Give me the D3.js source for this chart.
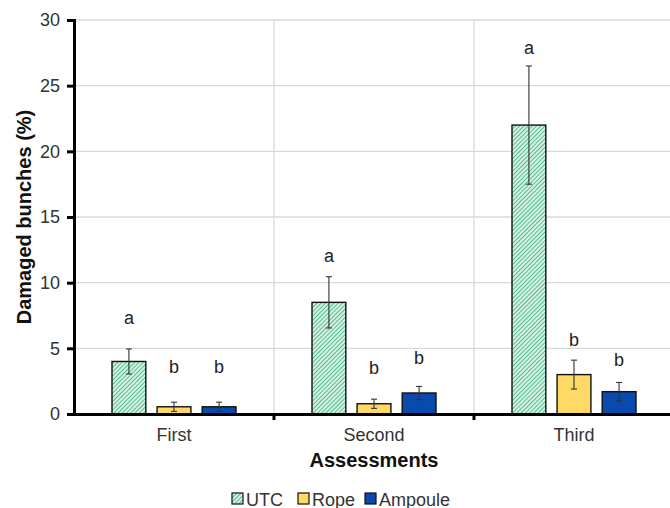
<!DOCTYPE html>
<html>
<head>
<meta charset="utf-8">
<script src="https://cdn.jsdelivr.net/npm/d3@7/dist/d3.min.js"></script>
<style>
  html, body { margin: 0; padding: 0; background: #fff; }
  svg { display: block; font-family: "Liberation Sans", Arial, sans-serif; }
</style>
</head>
<body>
<svg id="chart" width="670" height="508"></svg>
<script>
// Assessment rounds and treatments
const assessments = ["First", "Second", "Third"];
const treatments = ["UTC", "Rope", "Ampoule"];

// Mean damaged bunches (%) per treatment, in assessment order
const utcValues = [4.0, 8.5, 22.0];
const ropeValues = [0.55, 0.78, 3.0];
const ampouleValues = [0.55, 1.6, 1.7];

// Error (± half-width) per treatment
const utcErrors = [0.95, 1.95, 4.5];
const ropeErrors = [0.35, 0.35, 1.1];
const ampouleErrors = [0.35, 0.5, 0.7];

// Significance letters and the value level where each letter sits
const utcLetters = ["a", "a", "a"];
const ropeLetters = ["b", "b", "b"];
const ampouleLetters = ["b", "b", "b"];
const utcLetterLevel = [7.3, 12.0, 27.9];
const ropeLetterLevel = [3.6, 3.5, 5.6];
const ampouleLetterLevel = [3.6, 4.3, 4.1];

const yTicks = [0, 5, 10, 15, 20, 25, 30];

const seriesValues = [utcValues, ropeValues, ampouleValues];
const seriesErrors = [utcErrors, ropeErrors, ampouleErrors];
const seriesLetters = [utcLetters, ropeLetters, ampouleLetters];
const seriesLetterLevel = [utcLetterLevel, ropeLetterLevel, ampouleLetterLevel];

const svg = d3.select("#chart");
const margin = { left: 74, right: -4, top: 20, bottom: 94 };
const width = 670, height = 508;
const x0 = margin.left, x1 = width - margin.right;
const yTop = margin.top, yBot = height - margin.bottom;

const x = d3.scaleBand().domain(assessments).range([x0, x1]).paddingInner(0).paddingOuter(0);
const xs = d3.scaleBand().domain(treatments).range([38, 162]).paddingInner(0.25);
const y = d3.scaleLinear().domain([0, 30]).range([yBot, yTop]);

// hatch for the untreated control
const defs = svg.append("defs");
const pat = defs.append("pattern")
  .attr("id", "hatch").attr("patternUnits", "userSpaceOnUse")
  .attr("width", 3).attr("height", 3)
  .attr("patternTransform", "rotate(45)");
pat.append("rect").attr("width", 3).attr("height", 3).attr("fill", "#d6f2e3");
pat.append("line").attr("x1", 0).attr("y1", 0).attr("x2", 0).attr("y2", 3)
  .attr("stroke", "#34b07a").attr("stroke-width", 1.6);

const fills = ["url(#hatch)", "#ffd966", "#0a4aad"];

// horizontal gridlines
svg.append("g").selectAll("line").data(yTicks.filter(d => d > 0)).join("line")
  .attr("x1", x0).attr("x2", x1)
  .attr("y1", d => y(d)).attr("y2", d => y(d))
  .attr("stroke", "#d9d9d9").attr("stroke-width", 1.3);

// vertical separators between assessments
svg.append("g").selectAll("line").data(assessments.slice(1)).join("line")
  .attr("x1", d => x(d)).attr("x2", d => x(d))
  .attr("y1", yTop).attr("y2", yBot)
  .attr("stroke", "#d9d9d9").attr("stroke-width", 1.3);

// bars
const rows = [];
assessments.forEach((a, i) => {
  treatments.forEach((t, j) => {
    rows.push({
      a, t, j,
      v: seriesValues[j][i],
      e: seriesErrors[j][i],
      letter: seriesLetters[j][i],
      lv: seriesLetterLevel[j][i]
    });
  });
});

const bx = d => x(d.a) + xs(d.t);
const bw = xs.bandwidth();

svg.append("g").selectAll("rect").data(rows).join("rect")
  .attr("x", bx).attr("width", bw)
  .attr("y", d => y(d.v)).attr("height", d => y(0) - y(d.v))
  .attr("fill", d => fills[d.j])
  .attr("stroke", "#111").attr("stroke-width", 1.4);

// error bars
const eb = svg.append("g").attr("stroke", "#333").attr("stroke-width", 1.1);
rows.forEach(d => {
  const cx = bx(d) + bw / 2;
  eb.append("line").attr("x1", cx).attr("x2", cx).attr("y1", y(d.v + d.e)).attr("y2", y(d.v - d.e));
  eb.append("line").attr("x1", cx - 3).attr("x2", cx + 3).attr("y1", y(d.v + d.e)).attr("y2", y(d.v + d.e));
  eb.append("line").attr("x1", cx - 3).attr("x2", cx + 3).attr("y1", y(d.v - d.e)).attr("y2", y(d.v - d.e));
});

// significance letters
svg.append("g").selectAll("text").data(rows).join("text")
  .attr("x", d => bx(d) + bw / 2).attr("y", d => y(d.lv))
  .attr("text-anchor", "middle").attr("dominant-baseline", "central")
  .attr("font-size", 18).attr("fill", "#222")
  .text(d => d.letter);

// y axis
const yAxis = svg.append("g").attr("transform", `translate(${x0},0)`)
  .call(d3.axisLeft(y).tickValues(yTicks).tickSize(7).tickPadding(7));
yAxis.select(".domain").attr("stroke", "#000").attr("stroke-width", 3);
yAxis.selectAll(".tick line").attr("stroke", "#000").attr("stroke-width", 3);
yAxis.selectAll("text").attr("font-size", 18).attr("fill", "#333")
  .attr("font-family", "Liberation Sans, Arial, sans-serif");

// x axis
const xAxis = svg.append("g").attr("transform", `translate(0,${yBot})`)
  .call(d3.axisBottom(x).tickSize(0).tickPadding(14));
xAxis.select(".domain").attr("stroke", "#000").attr("stroke-width", 3);
xAxis.selectAll("text").attr("font-size", 18).attr("fill", "#333")
  .attr("font-family", "Liberation Sans, Arial, sans-serif");

// category boundary ticks
svg.append("g").selectAll("line").data(assessments.slice(1)).join("line")
  .attr("x1", d => x(d)).attr("x2", d => x(d))
  .attr("y1", yBot).attr("y2", yBot + 6)
  .attr("stroke", "#000").attr("stroke-width", 3);

// axis titles
svg.append("text")
  .attr("transform", `translate(31,${(yTop + yBot) / 2}) rotate(-90)`)
  .attr("text-anchor", "middle")
  .attr("font-size", 20).attr("font-weight", "bold").attr("fill", "#111")
  .text("Damaged bunches (%)");

svg.append("text")
  .attr("x", (x0 + x1) / 2).attr("y", 467)
  .attr("text-anchor", "middle")
  .attr("font-size", 20).attr("font-weight", "bold").attr("fill", "#111")
  .text("Assessments");

// legend
const legendX = [232, 298, 365];
const lg = svg.append("g");
treatments.forEach((t, j) => {
  const g = lg.append("g").attr("transform", `translate(${legendX[j]},493)`);
  g.append("rect").attr("width", 11).attr("height", 11)
    .attr("fill", fills[j]).attr("stroke", "#111").attr("stroke-width", 1.2);
  g.append("text").attr("x", 14).attr("y", 12.5)
    .attr("font-size", 18).attr("fill", "#333").text(t);
});
</script>
</body>
</html>
